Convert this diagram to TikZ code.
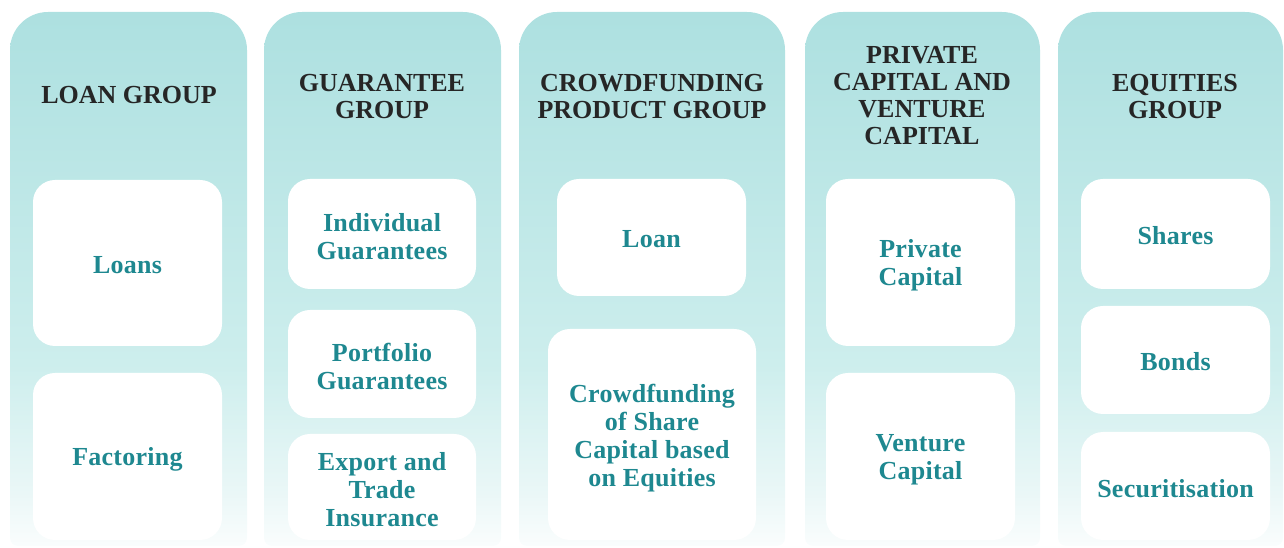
\documentclass[tikz,border=0pt]{standalone}
\usepackage{fontspec}
\setmainfont{Liberation Serif}
\definecolor{ptop}{HTML}{ADE0E0}
\definecolor{pmid}{HTML}{CDEEED}
\definecolor{plow}{HTML}{EAF7F7}
\definecolor{pbot}{HTML}{FAFDFD}
\definecolor{headtxt}{HTML}{262626}
\definecolor{boxtxt}{HTML}{1E8890}
\pgfdeclareverticalshading{panelshade}{100bp}{color(0bp)=(pbot); color(25bp)=(pbot); color(30bp)=(plow); color(42bp)=(pmid); color(75bp)=(ptop); color(100bp)=(ptop)}
\newcommand\mypanel[2]{%
  \path[shading=panelshade] (#1,10) arc[start angle=180,end angle=270,radius=8] -- ({#2-8},2)
    arc[start angle=270,end angle=360,radius=8] -- (#2,498)
    arc[start angle=0,end angle=90,radius=38] -- ({#1+38},536)
    arc[start angle=90,end angle=180,radius=38] -- cycle;}
\tikzset{
  head/.style={text=headtxt, font=\fontsize{26}{27}\selectfont\bfseries, align=center, inner sep=0pt},
  item/.style={fill=white, rounded corners=22, inner sep=0pt},
  itemtext/.style={text=boxtxt, align=center, inner sep=0pt,
    font=\fontsize{26}{28}\selectfont\bfseries\addfontfeatures{LetterSpace=1}},
}
\begin{document}
\begin{tikzpicture}[x=1pt,y=1pt]
\useasboundingbox (0,0) rectangle (1284,548);
\mypanel{10}{247}
\mypanel{264}{501}
\mypanel{519}{785}
\mypanel{805}{1040}
\mypanel{1058}{1283}
% headers
\node[head] (h1) at (129,453) {LOAN GROUP};
\node[head] (h2) at (382,451) {GUARANTEE\\GROUP};
\node[head] (h3) at (652,451) {CROWDFUNDING\\PRODUCT GROUP};
\node[head] (h4) at (922,452) {PRIVATE\\CAPITAL AND\\VENTURE\\CAPITAL};
\node[head] (h5) at (1175,451) {EQUITIES\\GROUP};
% column 1
\node[item, minimum width=189, minimum height=166] (loans) at (127.5,285) {};
\node[itemtext] (tloans) at ([yshift=-2]loans.center) {Loans};
\node[item, minimum width=189, minimum height=167] (fact) at (127.5,91.5) {};
\node[itemtext] (tfact) at ([yshift=-3]fact.center) {Factoring};
% column 2
\node[item, minimum width=188, minimum height=110] (indiv) at (382,314) {};
\node[itemtext] (tindiv) at ([yshift=-3]indiv.center) {Individual\\Guarantees};
\node[item, minimum width=188, minimum height=108] (port) at (382,184) {};
\node[itemtext] (tport) at ([yshift=-3]port.center) {Portfolio\\Guarantees};
\node[item, minimum width=188, minimum height=106] (exp) at (382,61) {};
\node[itemtext] (texp) at ([yshift=-3]exp.center) {Export and\\Trade\\Insurance};
% column 3
\node[item, minimum width=189, minimum height=117] (loan) at (651.5,310.5) {};
\node[itemtext] (tloan) at ([yshift=-2]loan.center) {Loan};
\node[item, minimum width=208, minimum height=211] (crowd) at (652,113.5) {};
\node[itemtext] (tcrowd) at ([yshift=-4]crowd.center) {Crowdfunding\\of Share\\Capital based\\on Equities};
% column 4
\node[item, minimum width=189, minimum height=167] (priv) at (920.5,285.5) {};
\node[itemtext] (tpriv) at ([yshift=-3]priv.center) {Private\\Capital};
\node[item, minimum width=189, minimum height=167] (vent) at (920.5,91.5) {};
\node[itemtext] (tvent) at ([yshift=-3]vent.center) {Venture\\Capital};
% column 5
\node[item, minimum width=189, minimum height=110] (shares) at (1175.5,314) {};
\node[itemtext] (tshares) at ([yshift=-2]shares.center) {Shares};
\node[item, minimum width=189, minimum height=108] (bonds) at (1175.5,188) {};
\node[itemtext] (tbonds) at ([yshift=-2]bonds.center) {Bonds};
\node[item, minimum width=189, minimum height=108] (sec) at (1175.5,62) {};
\node[itemtext] (tsec) at ([yshift=-3]sec.center) {Securitisation};
\end{tikzpicture}
\end{document}
